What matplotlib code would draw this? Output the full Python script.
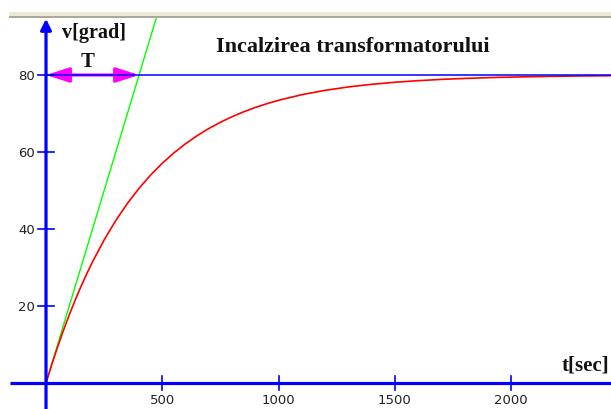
import matplotlib
matplotlib.use("Agg")
import matplotlib.pyplot as plt
from matplotlib.patches import Rectangle

# data
t_sec = [0, 25, 50, 75, 100, 125, 150, 175, 200, 250, 300, 350, 400, 450,
         500, 550, 600, 650, 700, 750, 800, 850, 900, 950, 1000, 1100, 1200,
         1300, 1400, 1500, 1600, 1700, 1800, 1900, 2000, 2100, 2200, 2300, 2430]
v_grad = [0, 4.85, 9.40, 13.68, 17.70, 21.47, 25.02, 28.35, 31.48, 37.18,
          42.21, 46.65, 50.57, 54.03, 57.08, 59.78, 62.15, 64.25, 66.10, 67.73,
          69.17, 70.45, 71.57, 72.56, 73.43, 74.89, 76.02, 76.90, 77.58, 78.12,
          78.53, 78.86, 79.11, 79.31, 79.46, 79.58, 79.67, 79.75, 79.82]
tangent_t = [0, 480]
tangent_v = [0, 96]
v_final = 80
T_const = 400
x_ticks = [500, 1000, 1500, 2000]
y_ticks = [20, 40, 60, 80]

title = "Incalzirea transformatorului"
ylabel = "v[grad]"
xlabel = "t[sec]"

W, H = 611, 410
fig = plt.figure(figsize=(W / 100, H / 100), dpi=100)
ax = fig.add_axes([0, 0, 1, 1])
xmin, xmax = -197.8, 2429
ymin, ymax = -6.75, 99.74
ax.set_xlim(xmin, xmax)
ax.set_ylim(ymin, ymax)
ax.axis('off')

# window border strip at the top
fig.patches.append(Rectangle((9 / W, 1 - 18 / H), 1, 5 / H, transform=fig.transFigure,
                             facecolor='#ece9d8', edgecolor='none', zorder=0))
fig.patches.append(Rectangle((9 / W, 1 - 18.5 / H), 1, 1.2 / H, transform=fig.transFigure,
                             facecolor='#aca899', edgecolor='none', zorder=0))

blue = '#0000ff'
# axes
ax.plot([-155, xmax], [0, 0], color=blue, lw=2.3, solid_capstyle='butt', zorder=3)
ax.annotate('', xy=(0, 94.6), xytext=(0, ymin),
            arrowprops=dict(arrowstyle='-|>', color=blue, lw=2.3,
                            mutation_scale=16, shrinkA=0, shrinkB=0), zorder=3)

tick_font = dict(family='DejaVu Sans', fontsize=9.5, color='#222222')
for yt in y_ticks:
    ax.plot([-34, 34], [yt, yt], color=blue, lw=1.2, zorder=3)
    ax.text(-48, yt, str(yt), ha='right', va='center', **tick_font)
for xt in x_ticks:
    ax.plot([xt, xt], [-1.9, 1.9], color=blue, lw=1.2, zorder=3)
    ax.text(xt, -4.4, str(xt), ha='center', va='center', **tick_font)

# tangent and heating curve
ax.plot(tangent_t, tangent_v, color='#00ff00', lw=1.0, zorder=2)
ax.plot(t_sec, v_grad, color='#ff0000', lw=1.2, zorder=2)

# time constant arrow
ax.annotate('', xy=(T_const, v_final), xytext=(0, v_final),
            arrowprops=dict(arrowstyle='<|-|>,head_length=1.4,head_width=0.45',
                            color='#ff00ff', lw=2.2, shrinkA=0, shrinkB=0), zorder=1)
# steady value line
ax.plot([0, xmax], [v_final, v_final], color=blue, lw=1.1, zorder=2)

serif = dict(family='Liberation Serif', fontweight='bold', color='#111111')
ax.text(180, 83.6, 'T', ha='center', va='center', fontsize=15, **serif)
ax.text(70, 91.2, ylabel, ha='left', va='center', fontsize=14.5, **serif)
ax.text(729, 87.5, title, ha='left', va='center', fontsize=16, **serif)
ax.text(2420, 4.7, xlabel, ha='right', va='center', fontsize=15, **serif)

fig.savefig('out.png', dpi=100)
